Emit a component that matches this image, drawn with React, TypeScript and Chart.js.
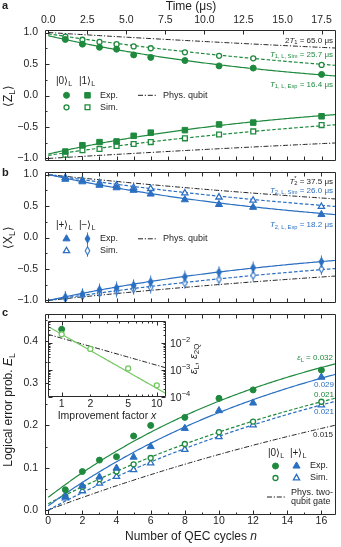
import { useEffect, useRef } from 'react';
import { Chart, registerables } from 'chart.js';

Chart.register(...registerables);

const W = 341;
const H = 547;
const FONT = "'Liberation Sans', Arial, Helvetica, sans-serif";
const INK = '#1e1e1e';
const GREEN = '#1f8a3e';
const BLUE = '#2b6fc1';
const LIGHT_GREEN = '#74c862';
const FRAME = '#2a2a2a';
const DASH = [3.5, 2];
const DASHDOT = [5, 1.8, 1.2, 1.8];
const TICK_SIZE = 10.5;
const TITLE_SIZE = 12;
const LEG = 9;
const NOTE = 8;

// ---------------- data ----------------
const CYCLE_US = 17.5 / 16; // μs per QEC cycle
const cycles = [1, 2, 3, 4, 5, 6, 8, 10, 12, 16];
const cycleTicks = [0, 1, 2, 3, 4, 5, 6, 7, 8, 9, 10, 11, 12, 13, 14, 15, 16];
const timeTicks = [0, 2.5, 5, 7.5, 10, 12.5, 15, 17.5];
const blochTicks = [-1, -0.75, -0.5, -0.25, 0, 0.25, 0.5, 0.75, 1];
const errTicks = [0, 0.05, 0.1, 0.15, 0.2, 0.25, 0.3, 0.35, 0.4, 0.45];
const improvement = [1, 2, 5, 10];
const improvementTicks = [1, 2, 3, 4, 5, 6, 7, 8, 9, 10];
const improvementLabels = [1, 2, 5, 10];
const epsDecades = [1e-4, 1e-3, 1e-2];
const epsTicks = [
  1e-4, 2e-4, 3e-4, 4e-4, 5e-4, 6e-4, 7e-4, 8e-4, 9e-4,
  1e-3, 2e-3, 3e-3, 4e-3, 5e-3, 6e-3, 7e-3, 8e-3, 9e-3,
  1e-2, 2e-2, 3e-2, 4e-2, 5e-2, 6e-2,
];

// panel a: <Z_L>
const z0Exp = [0.89, 0.815, 0.765, 0.735, 0.645, 0.605, 0.555, 0.47, 0.435, 0.335];
const z0Sim = [0.935, 0.885, 0.85, 0.815, 0.78, 0.75, 0.685, 0.63, 0.59, 0.485];
const z1Exp = [-0.89, -0.79, -0.74, -0.73, -0.64, -0.59, -0.55, -0.46, -0.43, -0.33];
const z1Sim = [-0.94, -0.87, -0.85, -0.8, -0.77, -0.74, -0.68, -0.62, -0.57, -0.47];
// panel b: <X_L>
const xPlusExp = [0.925, 0.885, 0.83, 0.79, 0.75, 0.69, 0.6, 0.525, 0.48, 0.365];
const xPlusSim = [0.95, 0.91, 0.865, 0.83, 0.79, 0.775, 0.705, 0.64, 0.59, 0.49];
const xMinusExp = [-0.95, -0.9, -0.83, -0.8, -0.76, -0.705, -0.625, -0.55, -0.48, -0.385];
const xMinusSim = [-0.96, -0.925, -0.88, -0.85, -0.815, -0.79, -0.72, -0.66, -0.6, -0.5];
// panel c: logical error probability
const e0Exp = [0.048, 0.091, 0.118, 0.126, 0.175, 0.2, 0.219, 0.264, 0.284, 0.331];
const ePlusExp = [0.032, 0.057, 0.078, 0.099, 0.125, 0.15, 0.193, 0.235, 0.253, 0.314];
const e0Sim = [0.033, 0.055, 0.073, 0.091, 0.108, 0.123, 0.156, 0.184, 0.209, 0.256];
const ePlusSim = [0.028, 0.045, 0.063, 0.079, 0.095, 0.111, 0.143, 0.173, 0.201, 0.248];
// inset
const epsLSim = [0.021, 0.006, 0.00114, 0.00027];
const epsLExp = [0.032];

// fit parameters (as labelled in the figure)
const T1_EXP = 16.4;
const T1_SIM = 25.7;
const TWO_T1 = 65.0;
const T2_EXP = 18.2;
const T2_SIM = 26.0;
const T2_STAR = 37.5;
const AMP_Z0_EXP = 0.95;
const AMP_Z0_SIM = 0.98;
const AMP_Z1_EXP = -0.93;
const AMP_Z1_SIM = -0.95;
const EPS_0_EXP = 0.032;
const EPS_P_EXP = 0.029;
const EPS_0_SIM = 0.021;
const EPS_P_SIM = 0.021;
const EPS_2Q = 0.015;
const OFF_0_EXP = 0.94;
const OFF_P_EXP = 0.98;
const OFF_0_SIM = 0.97;
const OFF_P_SIM = 1.0;
const OFF_2Q = 1.0;

// axis ranges
const N_MIN = -0.19;
const N_MAX = 16.85;
const BLOCH_MIN = -1.04;
const BLOCH_MAX = 1.04;
const ERR_MIN = -0.0118;
const ERR_MAX = 0.4634;
const IMP_MIN = 0.718;
const IMP_MAX = 12.5;
const EPS_MIN = 1e-4;
const EPS_MAX = 0.065;

// frames (page pixels)
const FA = { l: 45, r: 337, t: 30, b: 161 };
const FB = { l: 45, r: 337, t: 172, b: 303 };
const FC = { l: 45, r: 337, t: 314, b: 515 };
const FI = { l: 48, r: 166, t: 321, b: 397 };

// ---------------- helpers ----------------
const fmt1 = (v: number) => (v < -1e-9 ? '\u2212' : '') + Math.abs(v).toFixed(1);
const onStep = (v: number, step: number) => Math.abs(v / step - Math.round(v / step)) < 1e-6;

function diamondImg(color: string, open: boolean) {
  const c = document.createElement('canvas');
  c.width = 7;
  c.height = 13;
  const g = c.getContext('2d')!;
  g.strokeStyle = color;
  g.lineWidth = 1;
  g.beginPath();
  g.moveTo(3.5, 0.5);
  g.lineTo(3.5, 12.5);
  g.stroke();
  g.beginPath();
  g.moveTo(3.5, 2.5);
  g.lineTo(5.8, 6.5);
  g.lineTo(3.5, 10.5);
  g.lineTo(1.2, 6.5);
  g.closePath();
  g.fillStyle = open ? '#fff' : color;
  g.lineWidth = 1.1;
  g.fill();
  g.stroke();
  return c;
}
const DIA_FILLED = diamondImg(BLUE, false);
const DIA_OPEN = diamondImg(BLUE, true);

type Mk = { style: any; r: number; ro: number };
const MK_CIRCLE: Mk = { style: 'circle', r: 3.0, ro: 2.5 };
const MK_RECT: Mk = { style: 'rect', r: 3.9, ro: 3.4 };
const MK_TRI: Mk = { style: 'triangle', r: 4.1, ro: 3.6 };

function drawMarker(ctx: CanvasRenderingContext2D, mk: Mk, x: number, y: number, color: string, open: boolean, img?: HTMLCanvasElement) {
  ctx.save();
  if (img) {
    ctx.drawImage(img, x - img.width / 2, y - img.height / 2);
    ctx.restore();
    return;
  }
  const r = open ? mk.ro : mk.r;
  ctx.lineWidth = open ? 1.3 : 1;
  ctx.strokeStyle = color;
  ctx.fillStyle = open ? '#fff' : color;
  ctx.beginPath();
  if (mk.style === 'circle') ctx.arc(x, y, r, 0, Math.PI * 2);
  else if (mk.style === 'rect') {
    const s = r * Math.SQRT1_2;
    ctx.rect(x - s, y - s, 2 * s, 2 * s);
  } else {
    const a = (2 * Math.PI) / 3;
    ctx.moveTo(x, y - r);
    ctx.lineTo(x + Math.sin(a) * r, y - Math.cos(a) * r);
    ctx.lineTo(x + Math.sin(2 * a) * r, y - Math.cos(2 * a) * r);
    ctx.closePath();
  }
  ctx.fill();
  ctx.stroke();
  ctx.restore();
}

type Seg = string | { t: string; sub?: boolean; sup?: boolean; it?: boolean; keep?: boolean };
function rich(ctx: CanvasRenderingContext2D, segs: Seg[], x: number, y: number, size: number, color: string, align: 'left' | 'right' | 'center' = 'left', bold = false) {
  const items = segs
    .map((s) => (typeof s === 'string' ? { t: s } : s))
    .map((s: any) => {
      const small = s.sub || s.sup;
      const fs = small ? size * 0.72 : size;
      const font = `${s.it ? 'italic ' : ''}${bold ? 'bold ' : ''}${fs}px ${FONT}`;
      ctx.font = font;
      return { ...s, font, w: ctx.measureText(s.t).width, dy: s.sub ? size * 0.3 : s.sup ? -size * 0.38 : 0 };
    });
  const total = items.reduce((acc: number, it: any) => acc + (it.keep ? 0 : it.w), 0);
  let cx = align === 'left' ? x : align === 'right' ? x - total : x - total / 2;
  ctx.save();
  ctx.fillStyle = color;
  ctx.textBaseline = 'middle';
  ctx.textAlign = 'left';
  for (const it of items) {
    ctx.font = it.font;
    ctx.fillText(it.t, cx, y + it.dy);
    if (!it.keep) cx += it.w;
  }
  ctx.restore();
}
function rot(ctx: CanvasRenderingContext2D, segs: Seg[], x: number, y: number, size: number, color: string) {
  ctx.save();
  ctx.translate(x, y);
  ctx.rotate(-Math.PI / 2);
  rich(ctx, segs, 0, 0, size, color, 'center');
  ctx.restore();
}
function dashLine(ctx: CanvasRenderingContext2D, x1: number, x2: number, y: number, color: string, dash: number[]) {
  ctx.save();
  ctx.strokeStyle = color;
  ctx.lineWidth = 1;
  ctx.setLineDash(dash);
  ctx.beginPath();
  ctx.moveTo(x1, y);
  ctx.lineTo(x2, y);
  ctx.stroke();
  ctx.restore();
}

function axis(position: string, min: number, max: number, size: number, tickVals: number[], label: ((v: number) => string) | null, padding = 4, type = 'linear') {
  const vertical = position === 'left' || position === 'right';
  return {
    type,
    position,
    min,
    max,
    bounds: 'data',
    grid: { display: false, drawTicks: false },
    border: { display: false },
    ticks: {
      display: label !== null,
      autoSkip: false,
      maxRotation: 0,
      minRotation: 0,
      padding,
      color: INK,
      font: { family: FONT, size: TICK_SIZE },
      callback: (v: any) => (label ? label(Number(v)) : ''),
    },
    afterBuildTicks: (s: any) => {
      s.ticks = tickVals.map((v) => ({ value: v }));
    },
    afterFit: (s: any) => {
      if (vertical) s.width = size;
      else s.height = size;
    },
  };
}

type TickSpec = Record<string, number | 'log'>;
function frameTicks(spec: TickSpec, majorLen = 4, minorLen = 2) {
  return {
    id: 'frameTicks',
    afterDatasetsDraw(chart: any) {
      const { ctx, chartArea: a } = chart;
      const L = Math.round(a.left) + 0.5;
      const R = Math.round(a.right) - 0.5;
      const T = Math.round(a.top) + 0.5;
      const B = Math.round(a.bottom) - 0.5;
      ctx.save();
      ctx.strokeStyle = FRAME;
      ctx.lineWidth = 1;
      ctx.setLineDash([]);
      ctx.beginPath();
      for (const id of Object.keys(spec)) {
        const s = chart.scales[id];
        if (!s) continue;
        const m = spec[id];
        for (const t of s.ticks) {
          const v = t.value;
          const major = m === 'log' ? onStep(Math.log10(v), 1) : onStep(v, m as number);
          const len = major ? majorLen : minorLen;
          const p = Math.round(s.getPixelForValue(v)) + 0.5;
          if (s.position === 'bottom') {
            ctx.moveTo(p, B);
            ctx.lineTo(p, B - len);
          } else if (s.position === 'top') {
            ctx.moveTo(p, T);
            ctx.lineTo(p, T + len);
          } else if (s.position === 'left') {
            ctx.moveTo(L, p);
            ctx.lineTo(L + len, p);
          } else {
            ctx.moveTo(R, p);
            ctx.lineTo(R - len, p);
          }
        }
      }
      ctx.rect(L, T, R - L, B - T);
      ctx.stroke();
      ctx.restore();
    },
  };
}
function textPlugin(draw: (ctx: CanvasRenderingContext2D, chart: any) => void) {
  return {
    id: 'texts',
    afterDraw(chart: any) {
      const ctx = chart.ctx;
      ctx.save();
      draw(ctx, chart);
      ctx.restore();
    },
  };
}

function sample(f: (n: number) => number, from: number, to: number, steps = 160) {
  const out: { x: number; y: number }[] = [];
  for (let i = 0; i <= steps; i++) {
    const n = from + ((to - from) * i) / steps;
    out.push({ x: n, y: f(n) });
  }
  return out;
}
function sampleLog(f: (x: number) => number, from: number, to: number, steps = 60) {
  const out: { x: number; y: number }[] = [];
  const a = Math.log10(from);
  const b = Math.log10(to);
  for (let i = 0; i <= steps; i++) {
    const x = Math.pow(10, a + ((b - a) * i) / steps);
    out.push({ x, y: f(x) });
  }
  return out;
}
function line(data: any[], color: string, dash: number[], width = 1.2) {
  return {
    data,
    showLine: true,
    borderColor: color,
    borderWidth: width,
    borderDash: dash,
    pointRadius: 0,
    pointHoverRadius: 0,
    fill: false,
    tension: 0,
    order: 1,
  };
}
function pts(xs: number[], ys: number[], mk: Mk, color: string, open: boolean, img?: HTMLCanvasElement) {
  const r = open ? mk.ro : mk.r;
  return {
    data: xs.map((x, i) => ({ x, y: ys[i] })),
    showLine: false,
    pointStyle: img ?? mk.style,
    pointRadius: r,
    pointHoverRadius: r,
    pointBackgroundColor: open ? '#fff' : color,
    pointBorderColor: color,
    pointBorderWidth: open ? 1.3 : 1,
    order: 0,
  };
}
function baseOptions(scales: any) {
  return {
    animation: false,
    responsive: false,
    maintainAspectRatio: false,
    devicePixelRatio: 1,
    events: [],
    layout: { padding: 0 },
    plugins: { legend: { display: false }, tooltip: { enabled: false }, title: { display: false } },
    scales,
  };
}

function legendAB(ctx: CanvasRenderingContext2D, y0: number, k1: string, k2: string, m1: Mk, m2: Mk, color: string, img2?: [HTMLCanvasElement, HTMLCanvasElement]) {
  rich(ctx, [k1, { t: 'L', sub: true }], 56, y0, LEG + 1, INK);
  rich(ctx, [k2, { t: 'L', sub: true }], 79, y0, LEG + 1, INK);
  const y1 = y0 + 13.8;
  const y2 = y0 + 25.8;
  drawMarker(ctx, m1, 66.5, y1, color, false);
  drawMarker(ctx, m2, 87.5, y1, color, false, img2 ? img2[0] : undefined);
  drawMarker(ctx, m1, 66.5, y2, color, true);
  drawMarker(ctx, m2, 87.5, y2, color, true, img2 ? img2[1] : undefined);
  rich(ctx, ['Exp.'], 100, y1, LEG, INK);
  rich(ctx, ['Sim.'], 100, y2, LEG, INK);
  dashLine(ctx, 138, 157, y1, INK, DASHDOT);
  rich(ctx, ['Phys. qubit'], 163, y1, LEG, INK);
}

// ---------------- panel a ----------------
function buildA() {
  const t = (n: number) => n * CYCLE_US;
  return {
    type: 'scatter',
    data: {
      datasets: [
        line(sample((n) => AMP_Z0_EXP * Math.exp(-t(n) / T1_EXP), 0, N_MAX), GREEN, []),
        line(sample((n) => AMP_Z0_SIM * Math.exp(-t(n) / T1_SIM), 0, N_MAX), GREEN, DASH),
        line(sample((n) => Math.exp(-t(n) / TWO_T1), 0, N_MAX), INK, DASHDOT, 1),
        line(sample((n) => AMP_Z1_EXP * Math.exp(-t(n) / T1_EXP), 0, N_MAX), GREEN, []),
        line(sample((n) => AMP_Z1_SIM * Math.exp(-t(n) / T1_SIM), 0, N_MAX), GREEN, DASH),
        line(sample((n) => -Math.exp(-t(n) / TWO_T1), 0, N_MAX), INK, DASHDOT, 1),
        pts(cycles, z0Exp, MK_CIRCLE, GREEN, false),
        pts(cycles, z0Sim, MK_CIRCLE, GREEN, true),
        pts(cycles, z1Exp, MK_RECT, GREEN, false),
        pts(cycles, z1Sim, MK_RECT, GREEN, true),
      ],
    },
    options: baseOptions({
      x: axis('bottom', N_MIN, N_MAX, H - FA.b, cycleTicks, null),
      xt: axis('top', N_MIN * CYCLE_US, N_MAX * CYCLE_US, FA.t, timeTicks, (v) => v.toFixed(1), 3.5),
      y: axis('left', BLOCH_MIN, BLOCH_MAX, FA.l, blochTicks, (v) => (onStep(v, 0.5) ? fmt1(v) : ''), 7),
      yr: axis('right', BLOCH_MIN, BLOCH_MAX, W - FA.r, [], null),
    }),
    plugins: [
      frameTicks({ x: 1, xt: 2.5, y: 0.5 }),
      textPlugin((ctx) => {
        rich(ctx, ['a'], 2, 6, 11, INK, 'left', true);
        rich(ctx, ['Time (μs)'], 191, 7, TITLE_SIZE, INK, 'center');
        rot(ctx, ['\u27E8Z', { t: 'L', sub: true }, '\u27E9'], 9, 96, TITLE_SIZE, INK);
        rich(ctx, ['2', { t: 'T', it: true }, { t: '1', sub: true }, ' = 65.0 μs'], 333, 40.5, NOTE, INK, 'right');
        rich(ctx, [{ t: 'T', it: true }, { t: '1, L, Sim', sub: true }, ' = 25.7 μs'], 333, 54.5, NOTE, GREEN, 'right');
        rich(ctx, [{ t: 'T', it: true }, { t: '1, L, Exp', sub: true }, ' = 16.4 μs'], 333, 84.5, NOTE, GREEN, 'right');
        legendAB(ctx, 81.5, '|0\u27E9', '|1\u27E9', MK_CIRCLE, MK_RECT, GREEN);
      }),
    ],
  };
}

// ---------------- panel b ----------------
function buildB() {
  const t = (n: number) => n * CYCLE_US;
  return {
    type: 'scatter',
    data: {
      datasets: [
        line(sample((n) => Math.exp(-t(n) / T2_EXP), 0, N_MAX), BLUE, []),
        line(sample((n) => Math.exp(-t(n) / T2_SIM), 0, N_MAX), BLUE, DASH),
        line(sample((n) => Math.exp(-t(n) / T2_STAR), 0, N_MAX), INK, DASHDOT, 1),
        line(sample((n) => -Math.exp(-t(n) / T2_EXP), 0, N_MAX), BLUE, []),
        line(sample((n) => -Math.exp(-t(n) / T2_SIM), 0, N_MAX), BLUE, DASH),
        line(sample((n) => -Math.exp(-t(n) / T2_STAR), 0, N_MAX), INK, DASHDOT, 1),
        pts(cycles, xPlusExp, MK_TRI, BLUE, false),
        pts(cycles, xPlusSim, MK_TRI, BLUE, true),
        pts(cycles, xMinusExp, MK_TRI, BLUE, false, DIA_FILLED),
        pts(cycles, xMinusSim, MK_TRI, BLUE, true, DIA_OPEN),
      ],
    },
    options: baseOptions({
      x: axis('bottom', N_MIN, N_MAX, H - FB.b, cycleTicks, null),
      xt: axis('top', N_MIN, N_MAX, FB.t, cycleTicks, null),
      y: axis('left', BLOCH_MIN, BLOCH_MAX, FB.l, blochTicks, (v) => (onStep(v, 0.5) ? fmt1(v) : ''), 7),
      yr: axis('right', BLOCH_MIN, BLOCH_MAX, W - FB.r, [], null),
    }),
    plugins: [
      frameTicks({ x: 1, xt: 1, y: 0.5 }),
      textPlugin((ctx) => {
        rich(ctx, ['b'], 2, 173, 11, INK, 'left', true);
        rot(ctx, ['\u27E8X', { t: 'L', sub: true }, '\u27E9'], 9, 237.5, TITLE_SIZE, INK);
        rich(ctx, [{ t: 'T', it: true }, { t: '*', sup: true, keep: true }, { t: '2', sub: true }, ' = 37.5 μs'], 333, 181.5, NOTE, INK, 'right');
        rich(ctx, [{ t: 'T', it: true }, { t: '2, L, Sim', sub: true }, ' = 26.0 μs'], 333, 190.5, NOTE, BLUE, 'right');
        rich(ctx, [{ t: 'T', it: true }, { t: '2, L, Exp', sub: true }, ' = 18.2 μs'], 333, 225, NOTE, BLUE, 'right');
        legendAB(ctx, 225, '|+\u27E9', '|\u2212\u27E9', MK_TRI, MK_TRI, BLUE, [DIA_FILLED, DIA_OPEN]);
      }),
    ],
  };
}

// ---------------- panel c ----------------
function buildC() {
  const E = (eps: number, a: number) => (n: number) => 0.5 * (1 - a * Math.pow(1 - 2 * eps, n));
  return {
    type: 'scatter',
    data: {
      datasets: [
        line(sample(E(EPS_0_EXP, OFF_0_EXP), 0, N_MAX), GREEN, []),
        line(sample(E(EPS_P_EXP, OFF_P_EXP), 0, N_MAX), BLUE, []),
        line(sample(E(EPS_0_SIM, OFF_0_SIM), 0, N_MAX), GREEN, DASH),
        line(sample(E(EPS_P_SIM, OFF_P_SIM), 0, N_MAX), BLUE, DASH),
        line(sample(E(EPS_2Q, OFF_2Q), 0, N_MAX), INK, DASHDOT, 1),
        pts(cycles, e0Exp, MK_CIRCLE, GREEN, false),
        pts(cycles, ePlusExp, MK_TRI, BLUE, false),
        pts(cycles, e0Sim, MK_CIRCLE, GREEN, true),
        pts(cycles, ePlusSim, MK_TRI, BLUE, true),
      ],
    },
    options: baseOptions({
      x: axis('bottom', N_MIN, N_MAX, H - FC.b, cycleTicks, (v) => (onStep(v, 2) ? String(v) : ''), 0),
      xt: axis('top', N_MIN, N_MAX, FC.t, cycleTicks, null),
      y: axis('left', ERR_MIN, ERR_MAX, FC.l, errTicks, (v) => (onStep(v, 0.1) && v < 0.45 ? v.toFixed(1) : ''), 7),
      yr: axis('right', ERR_MIN, ERR_MAX, W - FC.r, [], null),
    }),
    plugins: [
      frameTicks({ x: 2, xt: 1, y: 0.1 }),
      textPlugin((ctx) => {
        rich(ctx, ['c'], 2, 313, 11, INK, 'left', true);
        rot(ctx, ['Logical error prob. ', { t: 'E', it: true }, { t: 'L', sub: true }], 9, 410, TITLE_SIZE, INK);
        rich(ctx, ['Number of QEC cycles ', { t: 'n', it: true }], 191, 537, TITLE_SIZE, INK, 'center');
        rich(ctx, [{ t: 'ε', it: true }, { t: 'L', sub: true }, ' = 0.032'], 333, 358, NOTE, GREEN, 'right');
        rich(ctx, ['0.029'], 334, 385, NOTE, BLUE, 'right');
        rich(ctx, ['0.021'], 334, 394.5, NOTE, GREEN, 'right');
        rich(ctx, ['0.021'], 334, 411.5, NOTE, BLUE, 'right');
        rich(ctx, ['0.015'], 333, 435, NOTE, INK, 'right');
        rich(ctx, ['|0\u27E9', { t: 'L', sub: true }], 268, 453, LEG + 1, INK);
        rich(ctx, ['|+\u27E9', { t: 'L', sub: true }], 290, 453, LEG + 1, INK);
        drawMarker(ctx, MK_CIRCLE, 275.5, 466, GREEN, false);
        drawMarker(ctx, MK_TRI, 296.5, 466, BLUE, false);
        drawMarker(ctx, MK_CIRCLE, 275.5, 478, GREEN, true);
        drawMarker(ctx, MK_TRI, 296.5, 478, BLUE, true);
        rich(ctx, ['Exp.'], 310, 466, LEG, INK);
        rich(ctx, ['Sim.'], 310, 478, LEG, INK);
        dashLine(ctx, 267, 285, 497, INK, DASHDOT);
        rich(ctx, ['Phys. two-'], 291, 492.5, LEG, INK);
        rich(ctx, ['qubit gate'], 291, 502, LEG, INK);
      }),
    ],
  };
}

// ---------------- inset ----------------
function buildInset() {
  return {
    type: 'scatter',
    data: {
      datasets: [
        line(sampleLog((x) => EPS_0_SIM / (x * x), IMP_MIN, IMP_MAX), LIGHT_GREEN, []),
        line(sampleLog((x) => EPS_2Q / x, IMP_MIN, IMP_MAX), INK, DASHDOT, 1),
        pts(improvement, epsLSim, MK_CIRCLE, LIGHT_GREEN, true),
        pts([improvement[0]], epsLExp, MK_CIRCLE, GREEN, false),
      ],
    },
    options: baseOptions({
      x: axis('bottom', IMP_MIN, IMP_MAX, H - FI.b, improvementTicks, null, 0, 'logarithmic'),
      xt: axis('top', IMP_MIN, IMP_MAX, FI.t, improvementTicks, null, 0, 'logarithmic'),
      y: axis('left', EPS_MIN, EPS_MAX, FI.l, epsTicks, null, 0, 'logarithmic'),
      yr: axis('right', EPS_MIN, EPS_MAX, W - FI.r, epsTicks, null, 0, 'logarithmic'),
    }),
    plugins: [
      {
        id: 'insetBg',
        beforeDraw(chart: any) {
          const { ctx, chartArea: a } = chart;
          ctx.save();
          ctx.fillStyle = '#fff';
          ctx.fillRect(a.left, a.top, a.right - a.left, a.bottom - a.top);
          ctx.restore();
        },
      },
      frameTicks({ x: 'log', xt: 'log', y: 'log', yr: 'log' }),
      textPlugin((ctx, chart) => {
        const yr = chart.scales.yr;
        for (const v of epsDecades) {
          const p = yr.getPixelForValue(v);
          const k = Math.round(Math.log10(v));
          rich(ctx, ['10', { t: '\u2212' + Math.abs(k), sup: true }], FI.r + 4, p + 1, TICK_SIZE, INK, 'left');
        }
        const xs = chart.scales.x;
        for (const v of improvementLabels) {
          rich(ctx, [String(v)], xs.getPixelForValue(v), FI.b + 7, TICK_SIZE, INK, 'center');
        }
        rot(ctx, [{ t: 'ε', it: true }, { t: 'L', sub: true }, ', ', { t: 'ε', it: true }, { t: '2Q', sub: true }], 194, 359, TICK_SIZE + 0.5, INK);
        rich(ctx, ['Improvement factor ', { t: 'x', it: true }], 107, 416, TICK_SIZE, INK, 'center');
      }),
    ],
  };
}

function ChartCanvas({ build }: { build: () => any }) {
  const ref = useRef<HTMLCanvasElement>(null);
  useEffect(() => {
    const chart = new Chart(ref.current as HTMLCanvasElement, build());
    return () => chart.destroy();
  }, [build]);
  return (
    <canvas
      ref={ref}
      width={W}
      height={H}
      style={{ position: 'absolute', left: 0, top: 0, width: W, height: H }}
    />
  );
}

export default function App() {
  return (
    <div
      style={{
        position: 'fixed',
        left: 0,
        top: 0,
        width: W,
        height: H,
        background: '#fff',
        overflow: 'hidden',
      }}
    >
      <ChartCanvas build={buildA} />
      <ChartCanvas build={buildB} />
      <ChartCanvas build={buildC} />
      <ChartCanvas build={buildInset} />
    </div>
  );
}
